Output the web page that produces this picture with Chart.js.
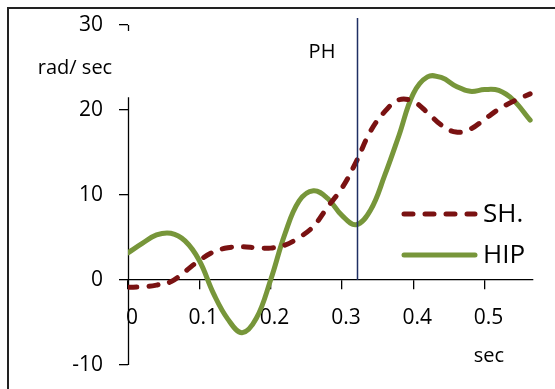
<!DOCTYPE html>
<html>
<head>
<meta charset="utf-8">
<script src="https://cdn.jsdelivr.net/npm/chart.js@4.4.0/dist/chart.umd.min.js"></script>
<style>
  html, body { margin: 0; padding: 0; background: #fff; }
  #wrap { position: relative; width: 555px; height: 389px; }
</style>
</head>
<body>
<div id="wrap"><canvas id="chart" width="555" height="389"></canvas></div>
<script>
// time (sec) and angular velocity (rad/sec)
const timeSec = [0, 0.02, 0.04, 0.06, 0.08, 0.10, 0.12, 0.14, 0.16, 0.18, 0.20, 0.22, 0.24, 0.26, 0.28,
                 0.30, 0.32, 0.34, 0.36, 0.38, 0.40, 0.42, 0.44, 0.46, 0.48, 0.50, 0.52, 0.54, 0.564];
const shValues = [-0.85, -0.8, -0.6, -0.2, 1.0, 2.3, 3.3, 3.8, 3.9, 3.8, 3.75, 4.1, 5.0, 6.3, 8.6,
                  10.8, 13.9, 17.5, 19.8, 21.2, 21.0, 19.7, 18.2, 17.4, 17.75, 18.9, 20.1, 21.0, 21.9];
const hipValues = [3.2, 4.3, 5.3, 5.5, 4.6, 2.3, -1.6, -4.6, -6.2, -4.5, 0.0, 5.4, 9.3, 10.5, 9.6,
                   7.6, 6.5, 8.2, 12.3, 17.0, 21.9, 23.9, 23.8, 22.8, 22.2, 22.4, 22.3, 21.2, 18.8];
const seriesNames = ['SH.', 'HIP'];
const yTicks = [-10, 0, 10, 20, 30];
const xTicks = [0, 0.1, 0.2, 0.3, 0.4, 0.5];
const phTime = 0.321;

const FONT = "'Open Sans', 'Noto Sans', sans-serif";
const SH_COLOR = '#7a1212';
const HIP_COLOR = '#77963a';

function toPoints(vals) {
    return timeSec.map((t, i) => ({ x: t, y: vals[i] }));
}

const decorations = {
    id: 'decorations',
    beforeDatasetsDraw(chart) {
        const c = chart.ctx;
        const xs = chart.scales.x, ys = chart.scales.y;
        const ax = Math.round(xs.getPixelForValue(0)) + 0.5;
        c.save();
        // picture frame (left and top edges only)
        c.strokeStyle = '#222';
        c.lineWidth = 2;
        c.beginPath();
        c.moveTo(8, 389); c.lineTo(8, 8); c.lineTo(555, 8);
        c.stroke();
        // y axis line, broken where the axis title sits
        c.strokeStyle = '#000';
        c.lineWidth = 1.3;
        c.beginPath();
        c.moveTo(ax, ys.getPixelForValue(30));
        c.lineTo(ax, ys.getPixelForValue(30) + 6);
        c.moveTo(ax, ys.getPixelForValue(21.5));
        c.lineTo(ax, ys.getPixelForValue(-10));
        c.stroke();
        c.restore();
    },
    afterDatasetsDraw(chart) {
        const c = chart.ctx;
        const xs = chart.scales.x, ys = chart.scales.y;
        const px = Math.round(xs.getPixelForValue(phTime)) + 0.5;
        c.save();
        c.strokeStyle = '#1f2f63';
        c.lineWidth = 1.5;
        c.beginPath();
        c.moveTo(px, ys.getPixelForValue(0));
        c.lineTo(px, chart.chartArea.top - 7);
        c.stroke();
        c.restore();
    },
    afterDraw(chart) {
        const c = chart.ctx;
        c.save();
        c.fillStyle = '#000';
        c.textAlign = 'center';
        c.textBaseline = 'middle';
        c.font = '20px ' + FONT;
        c.fillText('rad/ sec', 75, 68);
        c.fillText('PH', 322, 52);
        c.fillText('sec', 489, 356);

        // legend
        const rows = [214, 255];
        chart.data.datasets.forEach((ds, i) => {
            const y = rows[i];
            c.strokeStyle = ds.borderColor;
            c.lineWidth = ds.borderWidth;
            c.lineCap = 'round';
            c.setLineDash(ds.borderDash || []);
            c.beginPath();
            c.moveTo(404, y);
            c.lineTo(475, y);
            c.stroke();
            c.setLineDash([]);
            c.font = '26px ' + FONT;
            c.textAlign = 'left';
            c.fillStyle = '#000';
            c.fillText(ds.label, 483, y + 1);
        });
        c.restore();
    }
};

const ctx = document.getElementById('chart').getContext('2d');
new Chart(ctx, {
    type: 'line',
    data: {
        datasets: [
            {
                label: seriesNames[0],
                data: toPoints(shValues),
                borderColor: SH_COLOR,
                borderWidth: 5,
                borderDash: [9, 12],
                borderCapStyle: 'round',
                pointRadius: 0,
                tension: 0.4,
                fill: false
            },
            {
                label: seriesNames[1],
                data: toPoints(hipValues),
                borderColor: HIP_COLOR,
                borderWidth: 5,
                borderCapStyle: 'round',
                pointRadius: 0,
                tension: 0.4,
                fill: false
            }
        ]
    },
    options: {
        responsive: false,
        animation: false,
        devicePixelRatio: 1,
        layout: { padding: { left: 0, right: 22, top: 25, bottom: 24 } },
        plugins: {
            legend: { display: false },
            tooltip: { enabled: false }
        },
        scales: {
            x: {
                type: 'linear',
                position: { y: 0 },
                min: 0,
                max: 0.568,
                afterFit(scale) {
                    scale.height = 0;
                    scale.paddingLeft = 0;
                    scale.paddingRight = 0;
                },
                afterBuildTicks(scale) { scale.ticks = xTicks.map(v => ({ value: v })); },
                grid: { drawOnChartArea: false, drawTicks: true, tickLength: 9, color: '#000', lineWidth: 1.3 },
                border: { display: true, color: '#000', width: 1.3 },
                ticks: {
                    includeBounds: false,
                    padding: 16,
                    labelOffset: 4,
                    color: '#000',
                    font: { family: FONT, size: 21 },
                    maxRotation: 0,
                    callback: v => String(Math.round(v * 10) / 10)
                }
            },
            y: {
                type: 'linear',
                position: 'left',
                min: -10,
                max: 30,
                afterFit(scale) {
                    scale.width = 128;
                    scale.paddingTop = 0;
                    scale.paddingBottom = 0;
                },
                afterBuildTicks(scale) { scale.ticks = yTicks.map(v => ({ value: v })); },
                grid: { drawOnChartArea: false, drawTicks: true, tickLength: 9, color: '#000', lineWidth: 1.3 },
                border: { display: false },
                ticks: {
                    padding: 16,
                    color: '#000',
                    font: { family: FONT, size: 21 }
                }
            }
        }
    },
    plugins: [decorations]
});
</script>
</body>
</html>
